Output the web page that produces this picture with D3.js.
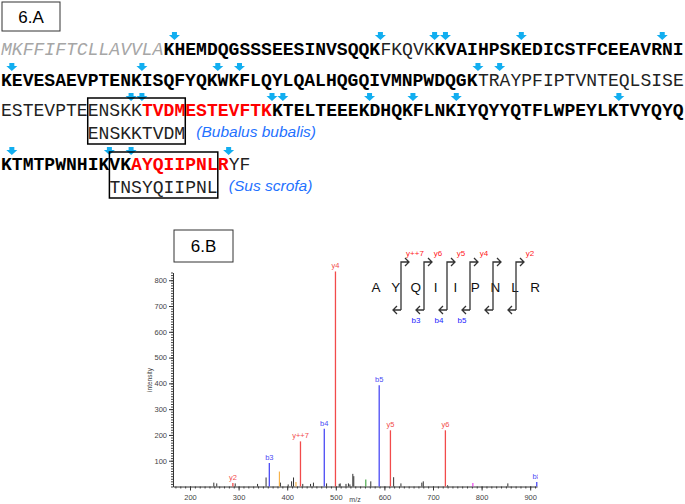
<!DOCTYPE html>
<html>
<head>
<meta charset="utf-8">
<script src="https://cdn.jsdelivr.net/npm/d3@7"></script>
<style>
  body { margin: 0; background: #fff; }
  svg { display: block; }
</style>
</head>
<body>
<div id="fig"></div>
<script>
// ---------- 6.A : protein sequence ----------
// each line is a list of [residues, style]
var line1 = [["MKFFIFTCLLAVVLA", "signal"], ["KHEMDQGSSSEESINVSQQK", "bold"], ["FKQVK", "plain"], ["KVAIHPSKEDICSTFCEEAVRNI", "bold"]];
var line2 = [["KEVESAEVPTENKISQFYQKWKFLQYLQALHQGQIVMNPWDQGK", "bold"], ["TRAYPFIPTVNTEQLSISE", "plain"]];
var line3 = [["ESTEVPTEENSKK", "plain"], ["TVDMESTEVFTK", "red"], ["KTELTEEEKDHQKFLNKIYQYYQTFLWPEYLKTVYQYQ", "bold"]];
var line4 = [["KTMTPWNHIKVK", "bold"], ["AYQIIPNLR", "red"], ["YF", "plain"]];
var seqLines = [line1, line2, line3, line4];

// cleavage sites (arrow drawn after residue index - 1)
var cuts1 = [16, 35, 40, 41, 48, 61];
var cuts2 = [1, 13, 20, 22, 44, 46];
var cuts3 = [12, 13, 25, 26, 34, 38, 42, 57];
var cuts4 = [1, 10, 12, 21];
var seqCuts = [cuts1, cuts2, cuts3, cuts4];

// homologous peptides of other species
var homologSeq = ["ENSKKTVDM", "TNSYQIIPNL"];
var homologStart = [8, 10];
var homologLine = [2, 3];
var homologSpecies = ["(Bubalus bubalis)", "(Sus scrofa)"];

// ---------- 6.B : MS/MS spectrum ----------
var ionNames = ["y2", "b3", "y++7", "b4", "y4", "b5", "y5", "y6", "b8"];
var ionMz = [288.2, 363.2, 427.3, 476.3, 499.3, 589.3, 612.4, 725.5, 913.5];
var ionInt = [14, 91, 175, 224, 834, 393, 218, 218, 17];

var otherMz = [384, 418, 561.7, 782];
var otherInt = [58, 17, 27, 14];
var otherColor = ["#f7b24a", "#f7b24a", "#4caa4c", "#ee44ee"];

var noiseMz = [249, 255, 293, 339, 356.5, 386, 402, 409, 413, 432, 448, 454, 481, 507, 509, 521, 526, 529, 535, 537, 572, 619, 634, 677, 680, 730, 854];
var noiseInt = [15, 12, 12, 10, 35, 15, 8, 20, 35, 10, 10, 15, 12, 10, 12, 10, 12, 8, 49, 40, 20, 36, 12, 15, 20, 5, 12];

var xTicks = [200, 300, 400, 500, 600, 700, 800, 900];
var yTicks = [100, 200, 300, 400, 500, 600, 700, 800];

// fragment map of AYQIIPNLR
var fragSeq = ["A", "Y", "Q", "I", "I", "P", "N", "L", "R"];
var fragCuts = [1, 2, 3, 4, 5, 6];
var yFragCuts = [1, 2, 3, 4, 6];
var yFragNames = ["y++7", "y6", "y5", "y4", "y2"];
var bFragCuts = [2, 3, 4];
var bFragNames = ["b3", "b4", "b5"];

var W = 685, H = 504;
var svg = d3.select("#fig").append("svg").attr("width", W).attr("height", H);

var mono = "'Liberation Mono', 'Courier New', monospace";
var sans = "'Liberation Sans', Arial, sans-serif";
var arrowBlue = "#12aef0";

// panel labels
function panelLabel(x, y, w, h, txt) {
    svg.append("rect").attr("x", x).attr("y", y).attr("width", w).attr("height", h)
        .attr("fill", "none").attr("stroke", "#333").attr("stroke-width", 1);
    svg.append("text").attr("x", x + w / 2).attr("y", y + h / 2 + 6)
        .attr("text-anchor", "middle").attr("font-family", sans).attr("font-size", 17)
        .text(txt);
}
panelLabel(2, 2, 58, 29, "6.A");
panelLabel(174, 230, 59, 32, "6.B");

// ----- sequence -----
var cw = 10.84;
var seqX = d3.scaleLinear().domain([0, 63]).range([1, 1 + 63 * cw]);
var lineBase = [55, 86, 116, 170];
var subBase = [139, 193];

var styles = {
    signal: { fill: "#a6a6a6", weight: "normal", italic: true },
    bold: { fill: "#000", weight: "bold", italic: false },
    plain: { fill: "#222", weight: "normal", italic: false },
    red: { fill: "#ff0000", weight: "bold", italic: false }
};

seqLines.forEach(function (segs, li) {
    var pos = 0;
    segs.forEach(function (s) {
        var st = styles[s[1]];
        svg.append("text")
            .attr("x", seqX(pos)).attr("y", lineBase[li])
            .attr("font-family", mono).attr("font-size", cw / 0.6)
            .attr("font-weight", st.weight)
            .attr("font-style", st.italic ? "italic" : "normal")
            .attr("fill", st.fill)
            .text(s[0]);
        pos += s[0].length;
    });
});

// cleavage arrows
seqCuts.forEach(function (cuts, li) {
    svg.append("g").selectAll("path").data(cuts).join("path")
        .attr("transform", function (d) { return "translate(" + seqX(d) + "," + (lineBase[li] - 23) + ")"; })
        .attr("d", "M-2.5,0 H2.5 V3 H5.5 L0,8 L-5.5,3 H-2.5 Z")
        .attr("fill", arrowBlue);
});

// homologous peptides with boxes
homologSeq.forEach(function (s, i) {
    var li = homologLine[i];
    var x0 = seqX(homologStart[i]);
    var x1 = seqX(homologStart[i] + s.length);
    svg.append("rect")
        .attr("x", x0).attr("y", lineBase[li] - 18)
        .attr("width", x1 - x0).attr("height", subBase[i] - lineBase[li] + 23)
        .attr("fill", "none").attr("stroke", "#000").attr("stroke-width", 1.5);
    svg.append("text")
        .attr("x", x0).attr("y", subBase[i])
        .attr("font-family", mono).attr("font-size", cw / 0.6)
        .attr("fill", "#222").text(s);
    svg.append("text")
        .attr("x", x1 + 11).attr("y", subBase[i] - 2)
        .attr("font-family", sans).attr("font-size", 15.5).attr("font-style", "italic")
        .attr("fill", "#1f72ff").text(homologSpecies[i]);
});

// ----- spectrum -----
var x = d3.scaleLinear().domain([165, 914]).range([173, 537]);
var y = d3.scaleLinear().domain([0, 830]).range([486.5, 272.5]);
var ionColor = function (n) { return n.charAt(0) === "y" ? "#f24b4b" : "#4b4bf5"; };

svg.append("defs").append("clipPath").attr("id", "clipSpec")
    .append("rect").attr("x", 120).attr("y", 260).attr("width", 418).attr("height", 244);

var spec = svg.append("g").attr("clip-path", "url(#clipSpec)");

// minor ticks
spec.append("g").attr("transform", "translate(0," + y(0) + ")")
    .call(d3.axisBottom(x).tickValues(d3.range(170, 914, 10)).tickSize(2).tickFormat(""))
    .call(function (g) { g.select(".domain").remove(); })
    .selectAll("line").attr("stroke", "#444");
spec.append("g").attr("transform", "translate(" + x(165) + ",0)")
    .call(d3.axisLeft(y).tickValues(d3.range(0, 831, 10)).tickSize(2).tickFormat(""))
    .call(function (g) { g.select(".domain").remove(); })
    .selectAll("line").attr("stroke", "#444");

var xAxis = spec.append("g").attr("transform", "translate(0," + y(0) + ")")
    .call(d3.axisBottom(x).tickValues(xTicks).tickSize(4).tickSizeOuter(0).tickPadding(4));
var yAxis = spec.append("g").attr("transform", "translate(" + x(165) + ",0)")
    .call(d3.axisLeft(y).tickValues(yTicks).tickSize(4).tickSizeOuter(0).tickPadding(2));
[xAxis, yAxis].forEach(function (g) {
    g.selectAll("path,line").attr("stroke", "#333");
    g.selectAll("text").attr("font-family", sans).attr("font-size", 7.5).attr("fill", "#444");
});

spec.append("text").attr("x", 355).attr("y", 502).attr("text-anchor", "middle")
    .attr("font-family", sans).attr("font-size", 7).attr("fill", "#444").text("m/z");
spec.append("text").attr("transform", "translate(152,380) rotate(-90)").attr("text-anchor", "middle")
    .attr("font-family", sans).attr("font-size", 6.5).attr("fill", "#444").text("intensity");

// noise peaks
spec.append("g").selectAll("line").data(noiseMz).join("line")
    .attr("x1", function (d) { return x(d); }).attr("x2", function (d) { return x(d); })
    .attr("y1", y(0)).attr("y2", function (d, i) { return y(noiseInt[i]); })
    .attr("stroke", "#333").attr("stroke-width", 1);

// unassigned coloured peaks
spec.append("g").selectAll("line").data(otherMz).join("line")
    .attr("x1", function (d) { return x(d); }).attr("x2", function (d) { return x(d); })
    .attr("y1", y(0)).attr("y2", function (d, i) { return y(otherInt[i]); })
    .attr("stroke", function (d, i) { return otherColor[i]; }).attr("stroke-width", 1.2);

// assigned ions
var ions = spec.append("g").selectAll("g").data(ionNames).join("g");
ions.append("line")
    .attr("x1", function (d, i) { return x(ionMz[i]); }).attr("x2", function (d, i) { return x(ionMz[i]); })
    .attr("y1", y(0)).attr("y2", function (d, i) { return y(ionInt[i]); })
    .attr("stroke", ionColor).attr("stroke-width", 1.3);
ions.append("text")
    .attr("x", function (d, i) { return x(ionMz[i]); })
    .attr("y", function (d, i) { return y(ionInt[i]) - 3; })
    .attr("text-anchor", "middle").attr("font-family", sans).attr("font-size", 7.5)
    .attr("fill", ionColor).text(function (d) { return d; });

// ----- fragment map -----
var resX = d3.scalePoint().domain(d3.range(fragSeq.length)).range([376, 535]);
var cutX = d3.scaleLinear().domain([1, 6]).range([401, 516]);
var topY = 262, botY = 310;

svg.append("g").selectAll("text").data(fragSeq).join("text")
    .attr("x", function (d, i) { return resX(i); }).attr("y", 292)
    .attr("text-anchor", "middle").attr("font-family", sans).attr("font-size", 13.5)
    .attr("fill", "#111").text(function (d) { return d; });

svg.append("g").selectAll("path").data(fragCuts).join("path")
    .attr("d", function (d) {
        var c = cutX(d);
        return "M" + c + "," + botY + "V" + topY + "H" + (c + 8) +
            "M" + (c + 4) + "," + (topY - 4) + "L" + (c + 8) + "," + topY + "L" + (c + 4) + "," + (topY + 4) +
            "M" + c + "," + botY + "H" + (c - 8) +
            "M" + (c - 4) + "," + (botY - 4) + "L" + (c - 8) + "," + botY + "L" + (c - 4) + "," + (botY + 4);
    })
    .attr("fill", "none").attr("stroke", "#333").attr("stroke-width", 1.3);

svg.append("g").selectAll("text").data(yFragNames).join("text")
    .attr("x", function (d, i) { return cutX(yFragCuts[i]) + 14; }).attr("y", 256)
    .attr("text-anchor", "middle").attr("font-family", sans).attr("font-size", 8)
    .attr("fill", "#ff2020").text(function (d) { return d; });

svg.append("g").selectAll("text").data(bFragNames).join("text")
    .attr("x", function (d, i) { return cutX(bFragCuts[i]) - 8; }).attr("y", 323)
    .attr("text-anchor", "middle").attr("font-family", sans).attr("font-size", 8)
    .attr("fill", "#2020ff").text(function (d) { return d; });
</script>
</body>
</html>
